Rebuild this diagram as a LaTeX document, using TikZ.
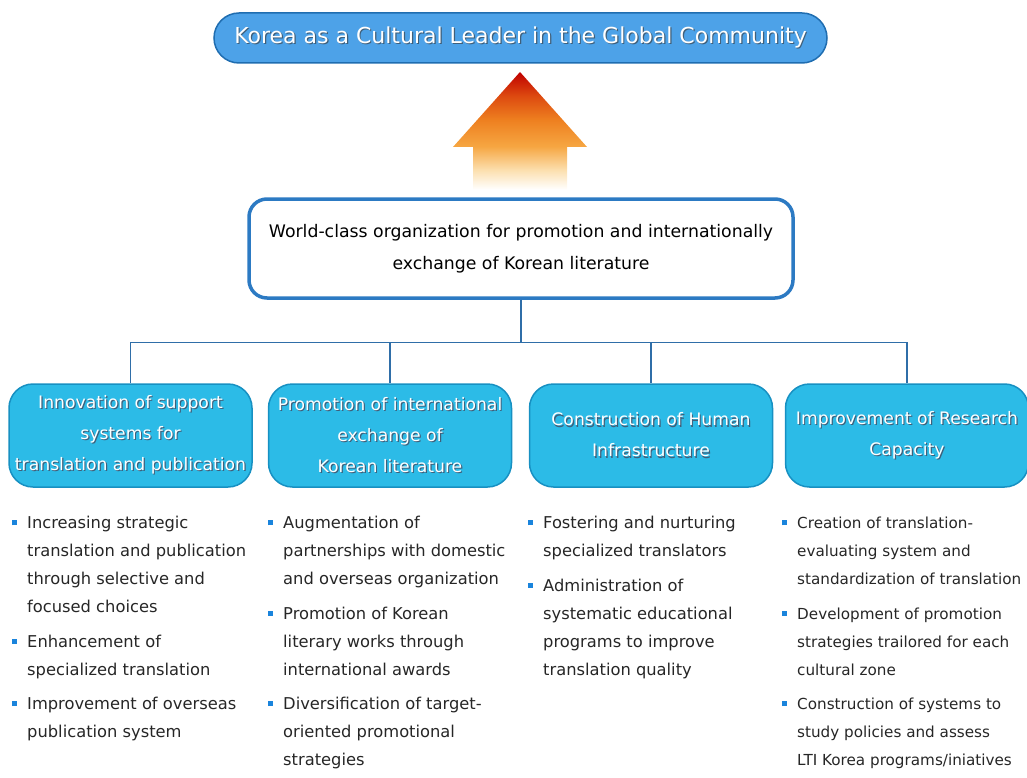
\documentclass[tikz,border=0pt]{standalone}
\usepackage{fontspec}
\setmainfont{DejaVu Sans}
\usepackage{tikz}
\usetikzlibrary{positioning,calc}

\definecolor{titlefill}{HTML}{4DA2E8}
\definecolor{titleborder}{HTML}{1F6DB0}
\definecolor{mainborder}{HTML}{2C7AC3}
\definecolor{catfill}{HTML}{2CBBE7}
\definecolor{catborder}{HTML}{1790C2}
\definecolor{linkblue}{HTML}{2F6EA8}
\definecolor{bulletblue}{HTML}{1A84DC}
\definecolor{bodygray}{HTML}{262626}
\definecolor{shadowgray}{HTML}{3F5F7A}
\definecolor{ared}{HTML}{C00000}
\definecolor{ared2}{HTML}{DD4A10}
\definecolor{aorange}{HTML}{EE8020}
\definecolor{aorange2}{HTML}{F6A642}
\definecolor{apale}{HTML}{FCE0B0}

\pgfdeclareverticalshading{upshade}{100bp}{color(0bp)=(white); color(26bp)=(white);
  color(34bp)=(apale); color(44bp)=(aorange2); color(55bp)=(aorange);
  color(65bp)=(ared2); color(75bp)=(ared); color(100bp)=(ared)}

% white text with a soft drop shadow
\newcommand\sh[1]{\makebox[0pt][l]{\hspace{1.2pt}\raisebox{-1.2pt}{\textcolor{shadowgray}{#1}}}#1}
% one bullet point, lines given with \\
\newcommand\bl[1]{\makebox[15pt][l]{\raisebox{3.5pt}{\textcolor{bulletblue}{\rule{5pt}{5pt}}}}\begin{tabular}[t]{@{}l@{}}#1\end{tabular}}

\begin{document}
\begin{tikzpicture}[x=1pt, y=-1pt,
  every node/.style={inner sep=0pt},
  titlebox/.style={draw=titleborder, line width=1.5pt, fill=titlefill, rounded corners=25pt,
    minimum width=613pt, minimum height=50pt, text=white, font=\fontsize{22}{26}\selectfont},
  mainbox/.style={draw=mainborder, line width=3.5pt, fill=white, rounded corners=18pt,
    minimum width=544pt, minimum height=99pt, align=center, font=\fontsize{17.3}{32}\selectfont},
  catbox/.style={draw=catborder, line width=1.5pt, fill=catfill, rounded corners=24pt,
    minimum width=243pt, minimum height=103pt, align=center, text=white, font=\fontsize{17.2}{31}\selectfont},
  bulletitem/.style={anchor=north west, text=bodygray, font=\fontsize{16.3}{28}\selectfont},
  link/.style={draw=linkblue, line width=1.3pt}]
  \useasboundingbox (0,0) rectangle (1027,778);

  % Goal
  \node[titlebox] (goal) at (520.5,38) {\sh{Korea as a Cultural Leader in the Global Community}};

  % Upward arrow
  \shade[shading=upshade] (473,192) -- (473,147) -- (453,147) -- (520,72) -- (587,147)
    -- (567,147) -- (567,192) -- cycle;

  % Vision
  \node[mainbox] (main) at (521,248.5) {World-class organization for promotion and internationally\\
    exchange of Korean literature};

  % Strategies
  \node[catbox] (c1) at (130.5,435.5) {\sh{Innovation of support}\\ \sh{systems for}\\ \sh{translation and publication}};
  \node[catbox] (c2) at (390,435.5) {\sh{Promotion of international}\\ \sh{exchange of}\\ \sh{Korean literature}};
  \node[catbox] (c3) at (651,435.5) {\sh{Construction of Human}\\ \sh{Infrastructure}};
  \node[catbox] (c4) at (907,435.5) {\sh{Improvement of Research}\\ \sh{Capacity}};

  \foreach \c in {c1,c2,c3,c4}
    \draw[link] (main.south) -- ++(0,43) -| (\c.north);

  % Tasks
  \node[bulletitem] (i11) at (12,509) {\bl{Increasing strategic\\ translation and publication\\ through selective and\\ focused choices}};
  \node[bulletitem, below right=6pt and 0pt of i11.south west] (i12) {\bl{Enhancement of\\ specialized translation}};
  \node[bulletitem, below right=6pt and 0pt of i12.south west] (i13) {\bl{Improvement of overseas\\ publication system}};

  \node[bulletitem] (i21) at (268,509) {\bl{Augmentation of\\ partnerships with domestic\\ and overseas organization}};
  \node[bulletitem, below right=6pt and 0pt of i21.south west] (i22) {\bl{Promotion of Korean\\ literary works through\\ international awards}};
  \node[bulletitem, below right=6pt and 0pt of i22.south west] (i23) {\bl{Diversification of target-\\ oriented promotional\\ strategies}};

  \node[bulletitem] (i31) at (528,509) {\bl{Fostering and nurturing\\ specialized translators}};
  \node[bulletitem, below right=6pt and 0pt of i31.south west] (i32) {\bl{Administration of\\ systematic educational\\ programs to improve\\ translation quality}};

  \node[bulletitem, font=\fontsize{15.2}{28}\selectfont] (i41) at (782,509) {\bl{Creation of translation-\\ evaluating system and\\ standardization of translation}};
  \node[bulletitem, font=\fontsize{15.2}{28}\selectfont, below right=6pt and 0pt of i41.south west] (i42) {\bl{Development of promotion\\ strategies trailored for each\\ cultural zone}};
  \node[bulletitem, font=\fontsize{15.2}{28}\selectfont, below right=6pt and 0pt of i42.south west] (i43) {\bl{Construction of systems to\\ study policies and assess\\ LTI Korea programs/iniatives}};
\end{tikzpicture}
\end{document}
